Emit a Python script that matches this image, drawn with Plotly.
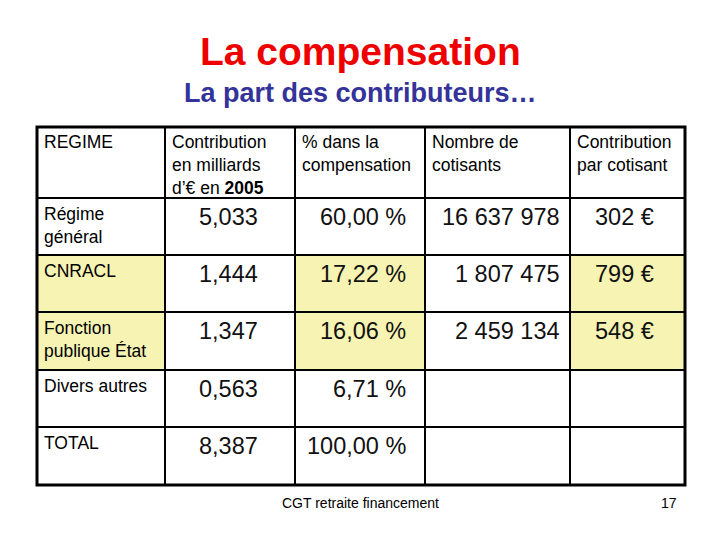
import plotly.graph_objects as go

title = "La compensation"
subtitle = "La part des contributeurs…"
headers = ["REGIME", "Contribution<br>en milliards<br>d’€ en <b>2005</b>", "% dans la<br>compensation", "Nombre de<br>cotisants", "Contribution<br>par cotisant"]
regimes = ["Régime<br>général", "CNRACL", "Fonction<br>publique État", "Divers autres", "TOTAL"]
contrib = ["5,033", "1,444", "1,347", "0,563", "8,387"]
pct = ["60,00 %", "17,22 %", "16,06 %", "6,71 %", "100,00 %"]
cotisants = ["16 637 978", "1 807 475", "2 459 134", "", ""]
par_cot = ["302 €", "799 €", "548 €", "", ""]
highlight_rows = [1, 2]
highlight_cols = [0, 2, 4]
footer = "CGT retraite financement"
page = "17"

col_x = [37, 165, 295, 425, 570, 685]
row_y = [127, 198, 255, 312, 370, 427, 485]
right_pad = [0, 35, 17, 8, 29]
YEL = "#F7F3B2"
FONT = "Liberation Sans, Arial, sans-serif"

fig = go.Figure()
shapes = []
ann = []
for r in highlight_rows:
    for c in highlight_cols:
        shapes.append(dict(type="rect", x0=col_x[c], x1=col_x[c+1], y0=row_y[r+1], y1=row_y[r+2],
                           fillcolor=YEL, line_width=0, layer="below"))
for x in col_x[1:-1]:
    shapes.append(dict(type="line", x0=x, x1=x, y0=row_y[0], y1=row_y[-1], line=dict(color="black", width=2)))
for y in row_y[1:-1]:
    shapes.append(dict(type="line", x0=col_x[0], x1=col_x[-1], y0=y, y1=y, line=dict(color="black", width=2)))
shapes.append(dict(type="rect", x0=col_x[0], x1=col_x[-1], y0=row_y[0], y1=row_y[-1], line=dict(color="black", width=3)))

for c, h in enumerate(headers):
    ann.append(dict(x=col_x[c]+5, y=row_y[0]+3, text=h, xanchor="left", yanchor="top", align="left",
                    showarrow=False, font=dict(size=17.5, color="black", family=FONT)))
cols = [contrib, pct, cotisants, par_cot]
for r in range(len(regimes)):
    ann.append(dict(x=col_x[0]+5, y=row_y[r+1]+4, text=regimes[r], xanchor="left", yanchor="top", align="left",
                    showarrow=False, font=dict(size=17.5, color="black", family=FONT)))
    for k, col in enumerate(cols):
        c = k+1
        if col[r]:
            ann.append(dict(x=col_x[c+1]-right_pad[c], y=row_y[r+1]+19, text=col[r], xanchor="right", yanchor="middle",
                            showarrow=False, font=dict(size=23.5, color="#111111", family=FONT)))

ann.append(dict(x=360, y=51, text="<b>"+title+"</b>", showarrow=False, font=dict(size=39, color="#EE0000", family=FONT)))
ann.append(dict(x=360, y=93, text="<b>"+subtitle+"</b>", showarrow=False, font=dict(size=27, color="#333399", family=FONT)))
ann.append(dict(x=360, y=503, text=footer, showarrow=False, font=dict(size=14, color="black", family=FONT)))
ann.append(dict(x=669, y=503, text=page, showarrow=False, font=dict(size=14, color="black", family=FONT)))

fig.update_layout(width=720, height=540, margin=dict(l=0, r=0, t=0, b=0),
                  paper_bgcolor="white", plot_bgcolor="white", shapes=shapes, annotations=ann,
                  xaxis=dict(range=[8, 728], visible=False, fixedrange=True),
                  yaxis=dict(range=[548, 8], visible=False, fixedrange=True), showlegend=False)
fig.write_html("out.html")
